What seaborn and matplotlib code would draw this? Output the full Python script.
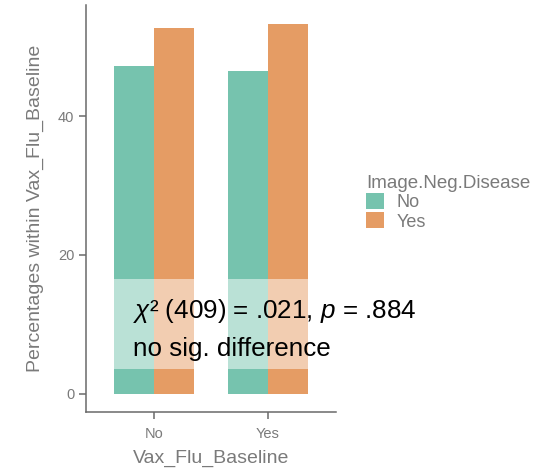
import matplotlib
matplotlib.use("Agg")
import matplotlib.pyplot as plt
import seaborn as sns
import pandas as pd

# Data
vax_categories = ["No", "Yes"]
disease_levels = ["No", "Yes"]
pct_disease_no = [47.3, 46.6]
pct_disease_yes = [52.7, 53.4]
y_ticks = [0, 20, 40]
annot_line1 = r"$\mathit{\chi}$² (409) = .021, $\mathit{p}$ = .884"
annot_line2 = "no sig. difference"

rows = []
for i, v in enumerate(vax_categories):
    rows.append({"Vax_Flu_Baseline": v, "Image.Neg.Disease": "No", "pct": pct_disease_no[i]})
    rows.append({"Vax_Flu_Baseline": v, "Image.Neg.Disease": "Yes", "pct": pct_disease_yes[i]})
df = pd.DataFrame(rows)

sns.set_theme(style="white")
plt.rcParams["font.family"] = ["Liberation Sans", "DejaVu Sans"]
plt.rcParams["mathtext.fontset"] = "custom"
plt.rcParams["mathtext.it"] = "Liberation Sans:italic"
plt.rcParams["mathtext.rm"] = "Liberation Sans"

colors = ["#76C3AE", "#E59C64"]
grey_txt = "#7a7a7a"
spine_c = "#6a6a6a"

fig = plt.figure(figsize=(5.46, 4.75), dpi=100)
ax = fig.add_axes([86 / 546, 1 - 412 / 475, (336 - 86) / 546, (412 - 5) / 475])

sns.barplot(data=df, x="Vax_Flu_Baseline", y="pct", hue="Image.Neg.Disease",
            order=vax_categories, hue_order=disease_levels, palette=colors,
            width=0.7, saturation=1, ax=ax, errorbar=None, legend=True,
            linewidth=0, edgecolor="none")

ax.set_xlim(-0.6, 1.6)
ax.set_ylim(-2.67, 56.07)
ax.set_yticks(y_ticks)
ax.set_yticklabels([str(t) for t in y_ticks])

for s in ["top", "right"]:
    ax.spines[s].set_visible(False)
for s in ["left", "bottom"]:
    ax.spines[s].set_color(spine_c)
    ax.spines[s].set_linewidth(1.1)
    ax.spines[s].set_zorder(10)
ax.tick_params(axis="both", which="both", length=5, width=1.1, color=spine_c,
               labelcolor=grey_txt, labelsize=10.5, left=True, bottom=True)
ax.tick_params(axis="x", pad=6)
ax.set_xlabel("Vax_Flu_Baseline", fontsize=14, color=grey_txt, labelpad=6)
ax.set_ylabel("Percentages within Vax_Flu_Baseline", fontsize=14, color=grey_txt, labelpad=10)

# annotation band
ax.axhspan(3.6, 16.5, color="white", alpha=0.5, zorder=5, linewidth=0)
ax.text(-0.184, 11.9, annot_line1, fontsize=18.7, color="black", va="center", ha="left", zorder=6)
ax.text(-0.184, 6.4, annot_line2, fontsize=18.7, color="black", va="center", ha="left", zorder=6)

# legend
handles, labels = ax.get_legend_handles_labels()
ax.legend(handles, labels, title="Image.Neg.Disease", loc="upper left",
          bbox_to_anchor=(359 / 546, 1 - 168 / 475), bbox_transform=fig.transFigure,
          frameon=False, fontsize=13, title_fontsize=13.5,
          handlelength=1.0, handleheight=1.0, labelspacing=0.05,
          handletextpad=0.7, borderaxespad=0, alignment="left", labelcolor=grey_txt)
ax.get_legend().get_title().set_color(grey_txt)

fig.savefig("out.png", dpi=100)
